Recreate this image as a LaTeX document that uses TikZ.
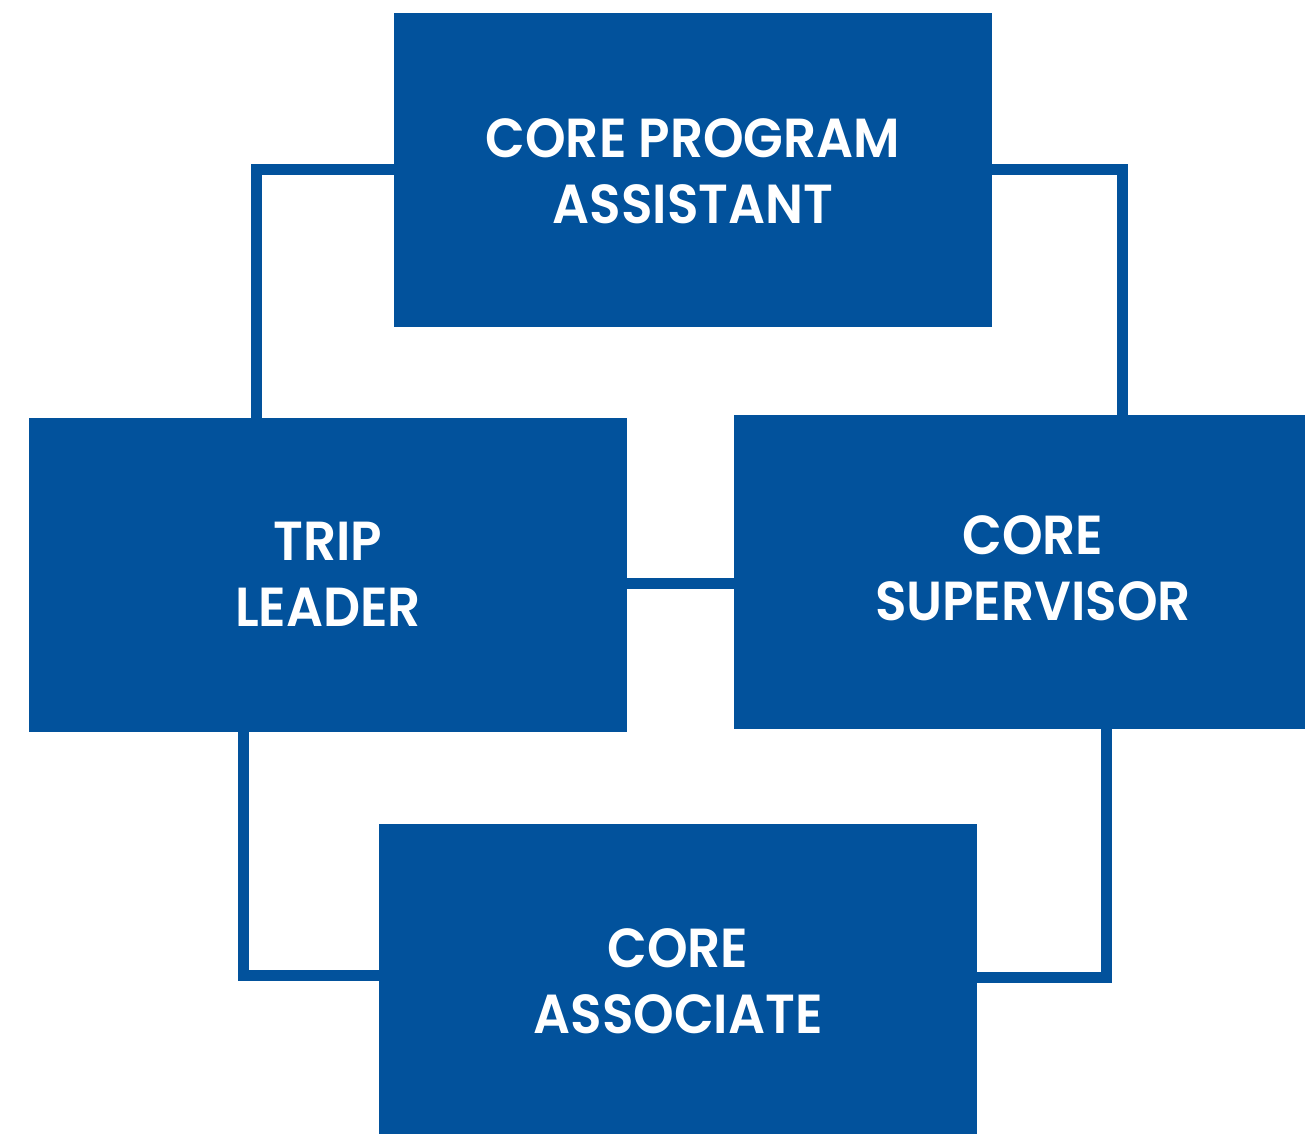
\documentclass[tikz,border=0pt]{standalone}
\usepackage{fontspec}
\setmainfont{Poppins}[BoldFont={Poppins SemiBold},BoldFeatures={FakeStretch=0.94}]
\definecolor{navy}{HTML}{02529C}
\begin{document}
\begin{tikzpicture}[x=1pt,y=-1pt,
  box/.style={draw=none,fill=navy,rectangle,inner sep=0pt},
  lbl/.style={text=white,font=\fontsize{55}{66}\selectfont\bfseries,align=center,inner sep=0pt},
  conn/.style={draw=navy,line width=11pt}]
\useasboundingbox (0,0) rectangle (1305,1134);
% boxes
\node[box,minimum width=598pt,minimum height=314pt] (top) at (693,170) {};
\node[box,minimum width=598pt,minimum height=314pt] (left) at (328,575) {};
\node[box,minimum width=571pt,minimum height=314pt] (right) at (1019.5,572) {};
\node[box,minimum width=598pt,minimum height=310pt] (bottom) at (678,979) {};
% labels
\node[lbl] (ttop) at (693,171) {CORE PROGRAM\\ASSISTANT};
\node[lbl] (tleft) at (328,574) {TRIP\\LEADER};
\node[lbl] (tright) at (1033,568.5) {CORE\\SUPERVISOR};
\node[lbl] (tbottom) at (678,981.5) {CORE\\ASSOCIATE};
% corner coordinates
\coordinate (tl) at (256,170);
\coordinate (tr) at (1122.5,170);
\coordinate (mid) at (680,583.5);
\coordinate (bl) at (243,975.5);
\coordinate (br) at (1106,977);
% connectors
\draw[conn] (top.west) -- (tl) -- (tl |- left.north);
\draw[conn] (top.east) -- (tr) -- (tr |- right.north);
\draw[conn] (left.east |- mid) -- (right.west |- mid);
\draw[conn] (bl |- left.south) -- (bl) -- (bl -| bottom.west);
\draw[conn] (br |- right.south) -- (br) -- (br -| bottom.east);
\end{tikzpicture}
\end{document}
